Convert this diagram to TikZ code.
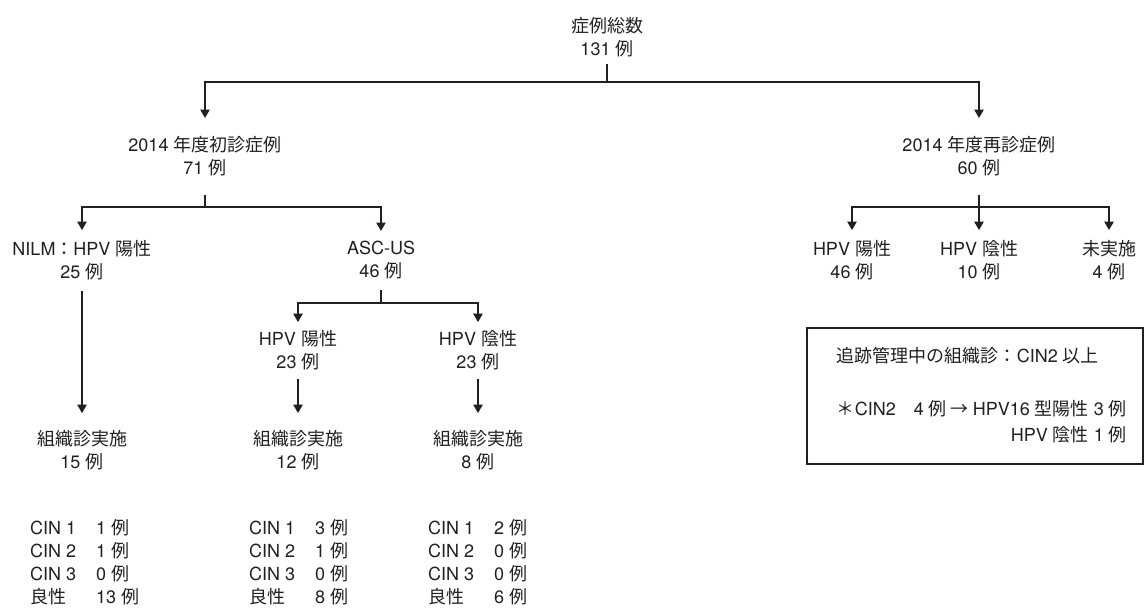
\documentclass[tikz,border=0pt]{standalone}
\usepackage{fontspec}
\setmainfont{TeX Gyre Heros}
\newfontfamily\jp{Noto Sans CJK JP}
\newcommand{\jt}[1]{{\jp #1}}
\usetikzlibrary{positioning, arrows.meta}
\definecolor{ink}{HTML}{231F20}

\begin{document}
\begin{tikzpicture}[x=1pt, y=-1pt, color=ink, line width=2.2pt,
  >={Triangle[width=9pt,length=8.5pt]},
  every node/.style={align=center, inner sep=0pt,
    font=\fontsize{18}{23}\selectfont},
  lv0/.style={outer ysep=6.5pt}, lv1/.style={outer ysep=18.5pt},
  lv2/.style={outer ysep=10.5pt}, lv3/.style={outer ysep=8.5pt},
  lv4/.style={outer ysep=17pt},
  frame/.style={draw, line width=1.6pt, minimum width=336pt,
    minimum height=136pt}]
  \useasboundingbox (0,0) rectangle (1146,608);

  \draw (607,37.5) node[lv0] (total) {\jt{症例総数}\\131 \jt{例}};

  \draw (205,156.5) node[lv1] (init) {2014 \jt{年度初診症例}\\71 \jt{例}};
  \draw (979,156.5) node[lv1] (revisit) {2014 \jt{年度再診症例}\\60 \jt{例}};

  \draw (82,260.5) node[lv2] (nilm) {NILM\jt{：}HPV \jt{陽性}\\25 \jt{例}};
  \draw (381,260.5) node[lv2] (ascus) {ASC-US\\46 \jt{例}};
  \draw (852,260.5) node[lv2] (rpos) {HPV \jt{陽性}\\46 \jt{例}};
  \draw (979,260.5) node[lv2] (rneg) {HPV \jt{陰性}\\10 \jt{例}};
  \draw (1109,260.5) node[lv2] (rnone) {\jt{未実施}\\4 \jt{例}};

  \draw (298,350.5) node[lv3] (apos) {HPV \jt{陽性}\\23 \jt{例}};
  \draw (478,350.5) node[lv3] (aneg) {HPV \jt{陰性}\\23 \jt{例}};

  \draw (82,450) node[lv4] (hist1) {\jt{組織診実施}\\15 \jt{例}};
  \draw (298,450) node[lv4] (hist2) {\jt{組織診実施}\\12 \jt{例}};
  \draw (478,450) node[lv4] (hist3) {\jt{組織診実施}\\8 \jt{例}};

  \draw (29,564.5) node[anchor=west] (res1) {\begin{tabular}{@{}p{66pt}@{}l@{}}
    CIN 1 & 1 \jt{例}\\ CIN 2 & 1 \jt{例}\\ CIN 3 & 0 \jt{例}\\
    \jt{良性} & 13 \jt{例}\end{tabular}};
  \draw (248,564.5) node[anchor=west] (res2) {\begin{tabular}{@{}p{66pt}@{}l@{}}
    CIN 1 & 3 \jt{例}\\ CIN 2 & 1 \jt{例}\\ CIN 3 & 0 \jt{例}\\
    \jt{良性} & 8 \jt{例}\end{tabular}};
  \draw (427,564.5) node[anchor=west] (res3) {\begin{tabular}{@{}p{66pt}@{}l@{}}
    CIN 1 & 2 \jt{例}\\ CIN 2 & 0 \jt{例}\\ CIN 3 & 0 \jt{例}\\
    \jt{良性} & 6 \jt{例}\end{tabular}};

  \draw (975,396) node[frame] (box) {};
  \draw (1128,397.7) node[anchor=east] (note) {\begin{tabular}{@{}r@{}}
    \multicolumn{1}{@{}l@{}}{\jt{追跡管理中の組織診：}CIN2 \jt{以上}}\\[30pt]
    \jt{＊}CIN2\hspace{1em}4 \jt{例 → }HPV16 \jt{型陽性} 3 \jt{例}\\[3pt]
    HPV \jt{陰性} 1 \jt{例}\end{tabular}};

  \coordinate (j0) at (607,82); \coordinate (j1) at (205,207);
  \coordinate (j2) at (979,207); \coordinate (j3) at (381,303);

  \draw (total) -- (j0);
  \draw[->] (j0) -| (init); \draw[->] (j0) -| (revisit);
  \draw (init) -- (j1);
  \draw[->] (j1) -| (nilm); \draw[->] (j1) -| (ascus);
  \draw (revisit) -- (j2);
  \draw[->] (j2) -| (rpos); \draw[->] (j2) -- (rneg); \draw[->] (j2) -| (rnone);
  \draw (ascus) -- (j3);
  \draw[->] (j3) -| (apos); \draw[->] (j3) -| (aneg);
  \draw[->] (nilm) -- (hist1);
  \draw[->] (apos) -- (hist2); \draw[->] (aneg) -- (hist3);

\end{tikzpicture}
\end{document}
